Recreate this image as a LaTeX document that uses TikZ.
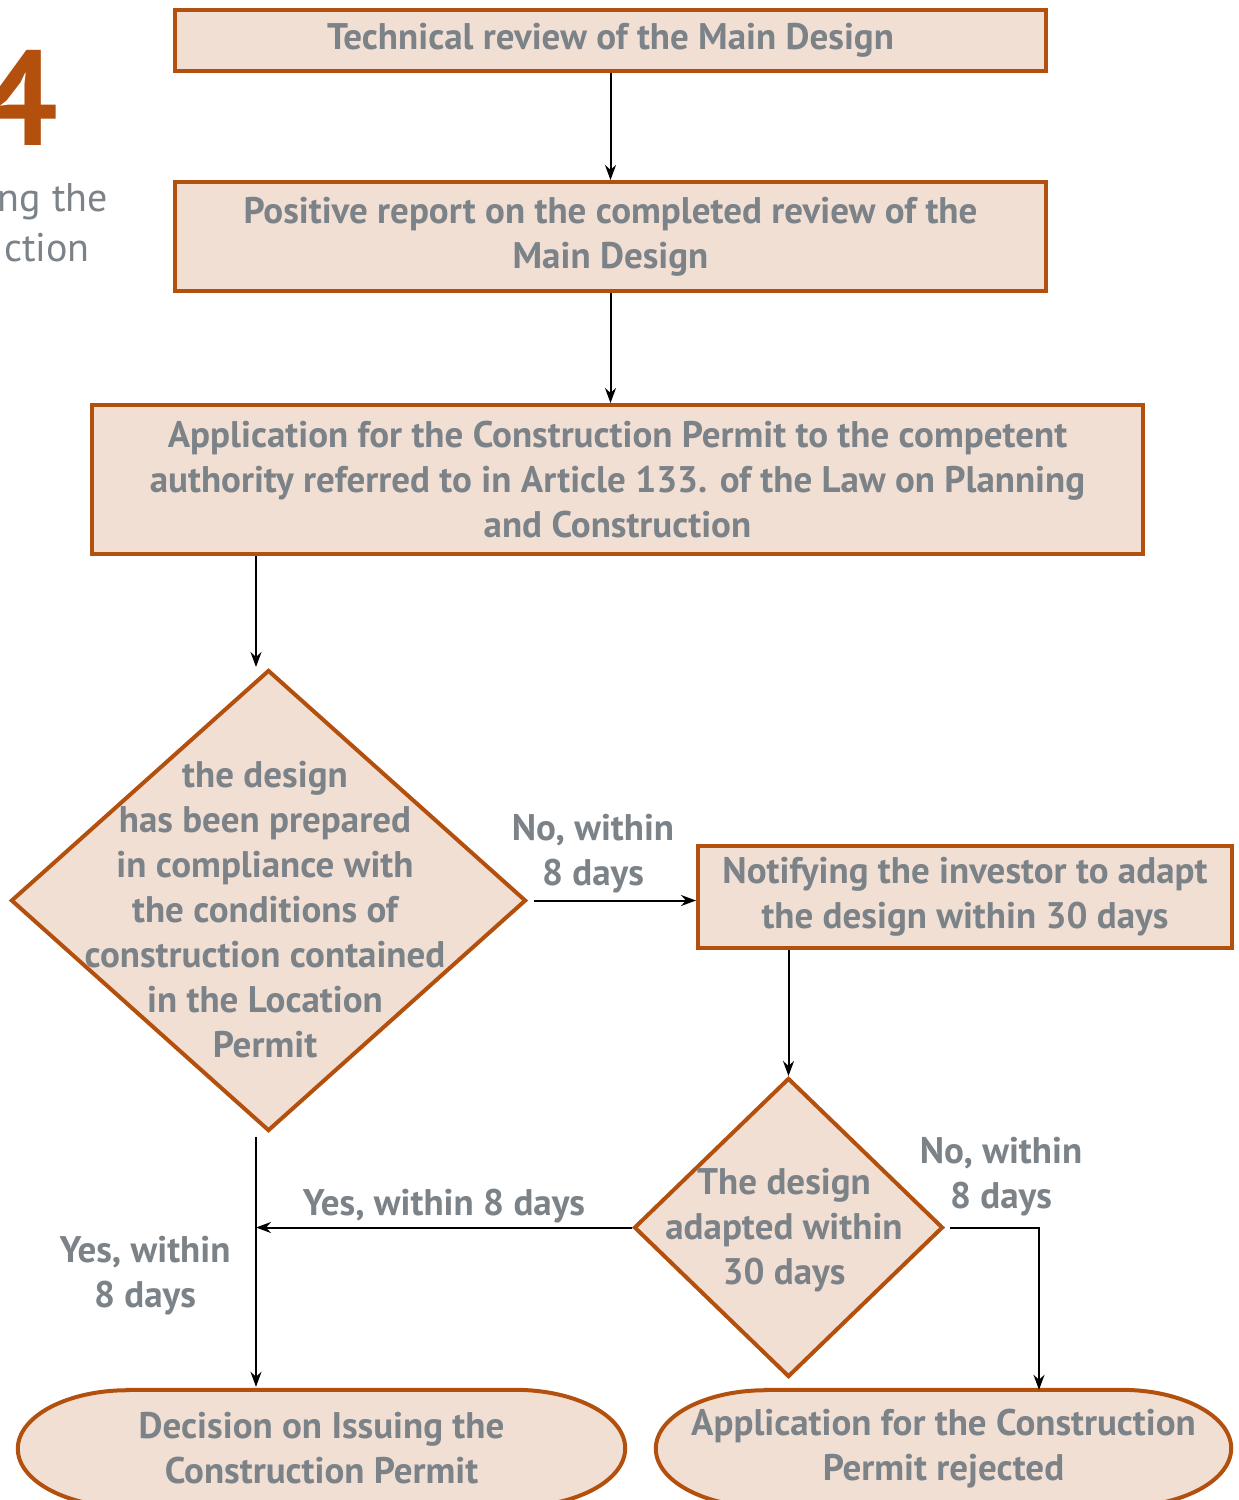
\documentclass[tikz,border=0pt]{standalone}
\usepackage{fontspec}
\setmainfont{PT Sans}
\usetikzlibrary{shapes.geometric,arrows.meta,calc}
\definecolor{edgeorange}{HTML}{B4500D}
\definecolor{boxfill}{HTML}{F2DFD3}
\definecolor{txtgray}{HTML}{7B8288}
\tikzset{
  every node/.style={font=\fontsize{37}{45}\selectfont\bfseries, text=txtgray, align=center},
  procbox/.style={draw=edgeorange, fill=boxfill, line width=4pt, rectangle, inner sep=0pt},
  decision/.style={draw=edgeorange, fill=boxfill, line width=4pt, diamond, inner sep=0pt},
  terminal/.style={rectangle, draw=none, inner sep=0pt},
  stadium/.style={draw=edgeorange, fill=boxfill, line width=4pt},
  arr/.style={draw=black, line width=2pt, -{Stealth[length=15pt,width=11pt]}},
  lbl/.style={inner sep=0pt}
}
\begin{document}
\begin{tikzpicture}[x=1pt,y=1pt]
\useasboundingbox (0,0) rectangle (1239,-1500);
\clip (0,0) rectangle (1239,-1500);

% heading fragments on the left
\node[anchor=base east, inner sep=0pt, text=edgeorange, font=\fontsize{135}{135}\selectfont\bfseries] (num) at (58,-145) {4};
\node[anchor=base east, inner sep=0pt, font=\fontsize{40}{50}\selectfont] (h1) at (108,-211) {ng the};
\node[anchor=base east, inner sep=0pt, font=\fontsize{40}{50}\selectfont] (h2) at (90,-261) {ction};

% process boxes
\node[procbox, minimum width=871, minimum height=61] (b1) at (610.5,-40.5) {Technical review of the Main Design};
\node[procbox, minimum width=871, minimum height=109] (b2) at (610.5,-236.5) {Positive report on the completed review of the\\Main Design};
\node[procbox, minimum width=1051, minimum height=149] (b3) at (617.5,-479.5) {Application for the Construction Permit to the competent\\authority referred to in Article 133. of the Law on Planning\\and Construction};
\node[procbox, minimum width=534, minimum height=102] (b4) at (965,-897) {Notifying the investor to adapt\\the design within 30 days};

% decisions
\node[decision, minimum width=515, minimum height=461] (d1) at (268.5,-900.5) {};
\node[lbl] (d1t) at (265,-909.5) {the design\\has been prepared\\in compliance with\\the conditions of\\construction contained\\in the Location\\Permit};
\node[decision, minimum width=309, minimum height=299] (d2) at (788.5,-1227.5) {};
\node[lbl] (d2t) at (784,-1230) {The design\\adapted within\\30 days};

% terminals
\node[terminal, minimum width=607, minimum height=117] (t1) at (321.5,-1448.5) {};
\path[stadium] ($(t1.north west)+(110,0)$) -- ($(t1.north east)+(-110,0)$)
  arc[start angle=90, end angle=-90, x radius=110, y radius=58.5]
  -- ($(t1.south west)+(110,0)$)
  arc[start angle=270, end angle=90, x radius=110, y radius=58.5] -- cycle;
\node[lbl] (t1t) at (t1) {Decision on Issuing the\\Construction Permit};

\node[terminal, minimum width=575, minimum height=117] (t2) at (943.5,-1448.5) {};
\path[stadium] ($(t2.north west)+(110,0)$) -- ($(t2.north east)+(-110,0)$)
  arc[start angle=90, end angle=-90, x radius=110, y radius=58.5]
  -- ($(t2.south west)+(110,0)$)
  arc[start angle=270, end angle=90, x radius=110, y radius=58.5] -- cycle;
\node[lbl] (t2t) at (t2) {Application for the Construction\\Permit rejected};

% helper points
\coordinate (into1) at (256,-667);
\coordinate (join) at (256,-1228);
\coordinate (rej) at (1039,-1228);

% connectors
\draw[arr] (b1.south) -- (b2.north);
\draw[arr] (b2.south) -- (b2.south |- b3.north);
\draw[arr] (b3.south -| into1) -- (into1);
\draw[arr, shorten <=6pt] (d1.east) -- (d1.east -| b4.west);
\draw[arr] (b4.south -| d2.north) -- (d2.north);
\draw[arr] (d2.west) -- (d2.west -| join);
\draw[arr] ([yshift=-4pt]d1.south -| join) -- ([yshift=3pt]t1.north -| join);
\draw[arr, shorten <=5pt] (d2.east) -- (d2.east -| rej) -- (t2.north -| rej);

% connector labels
\node[lbl] (l1) at (593,-853.5) {No, within\\8 days};
\node[lbl] (l2) at (444,-1206) {Yes, within 8 days};
\node[lbl] (l3) at (145,-1275.5) {Yes, within\\8 days};
\node[lbl] (l4) at (1001,-1176.5) {No, within\\8 days};
\end{tikzpicture}
\end{document}
